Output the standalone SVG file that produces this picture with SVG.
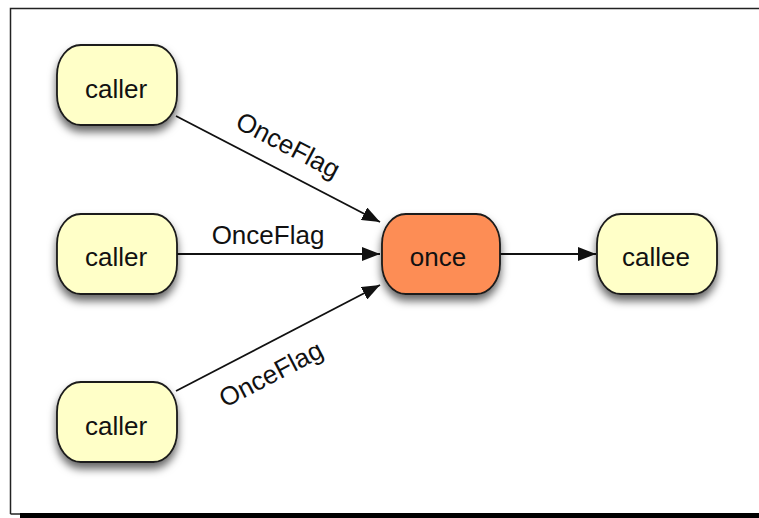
<svg xmlns="http://www.w3.org/2000/svg" width="759" height="518" viewBox="0 0 759 518">
  <style>
    .node rect { stroke: #1a1a1a; stroke-width: 1.8; filter: url(#shadow); }
    .caller rect, .callee rect { fill: #ffffc8; }
    .once rect { fill: #fd8d55; }
    .node text { font-family: "Liberation Sans", Arial, sans-serif; font-size: 26px; fill: #111; text-anchor: middle; }
    .edge { stroke: #111; stroke-width: 1.8; fill: none; marker-end: url(#arrow); }
    .label { font-family: "Liberation Sans", Arial, sans-serif; font-size: 26px; fill: #111; text-anchor: middle; }
  </style>
  <defs>
    <filter id="shadow" x="-30%" y="-30%" width="160%" height="180%">
      <feDropShadow dx="0" dy="6" stdDeviation="4.5" flood-color="#000" flood-opacity="0.6"/>
    </filter>
    <marker id="arrow" viewBox="0 0 18 14" refX="18" refY="7" markerWidth="18" markerHeight="14" markerUnits="userSpaceOnUse" orient="auto">
      <path d="M0,0 L18,7 L0,14 Z" fill="#111"/>
    </marker>
  </defs>

  <!-- page frame -->
  <rect x="0" y="0" width="759" height="518" fill="#fff"/>
  <path d="M10.5,514 V8.5 H759" fill="none" stroke="#222" stroke-width="1.5"/>
  <path d="M10.5,514 H20" fill="none" stroke="#222" stroke-width="1.5"/>
  <rect x="20" y="513" width="739" height="5" fill="#000"/>

  <!-- connectors -->
  <g id="connectors">
    <line class="edge" x1="176" y1="116" x2="380" y2="222"/>
    <line class="edge" x1="177" y1="254" x2="380" y2="254"/>
    <line class="edge" x1="176" y1="391" x2="380" y2="285"/>
    <line class="edge" x1="500" y1="254" x2="596" y2="254"/>
    <text class="label" transform="translate(284,153) rotate(27.6)">OnceFlag</text>
    <text class="label" x="268" y="244">OnceFlag</text>
    <text class="label" transform="translate(275,382) rotate(-27.6)">OnceFlag</text>
  </g>

  <!-- nodes -->
  <g id="caller1" class="node caller">
    <rect x="57" y="45" width="120" height="80" rx="24" ry="30"/>
    <text x="116" y="98">caller</text>
  </g>
  <g id="caller2" class="node caller">
    <rect x="57" y="214" width="120" height="80" rx="24" ry="30"/>
    <text x="116" y="266">caller</text>
  </g>
  <g id="caller3" class="node caller">
    <rect x="57" y="382" width="120" height="80" rx="24" ry="30"/>
    <text x="116" y="435">caller</text>
  </g>
  <g id="once" class="node once">
    <rect x="382" y="214" width="118" height="80" rx="24" ry="30"/>
    <text x="438" y="266">once</text>
  </g>
  <g id="callee" class="node callee">
    <rect x="597" y="214" width="120" height="80" rx="24" ry="30"/>
    <text x="656" y="266">callee</text>
  </g>
</svg>
